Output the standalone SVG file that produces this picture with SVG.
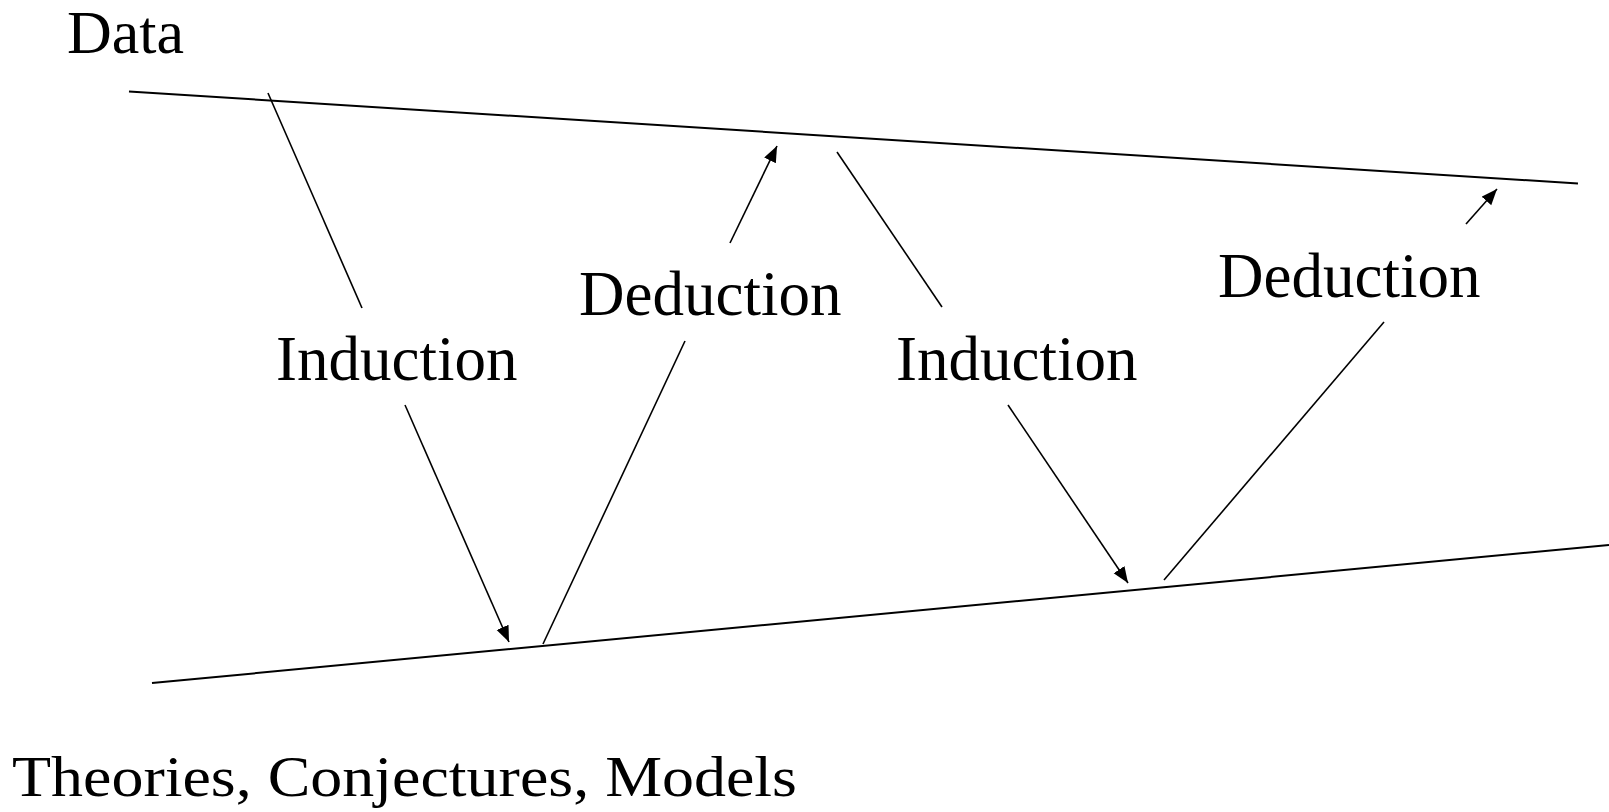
<svg xmlns="http://www.w3.org/2000/svg" width="1609" height="812" viewBox="0 0 1609 812">
<style>
.t{font-family:"Liberation Serif","Times New Roman",serif;fill:#000}
.ln{stroke:#000;stroke-width:2;fill:none}
.c{stroke:#000;stroke-width:1.6;fill:none}
</style>
<defs>
<marker id="ah" markerUnits="userSpaceOnUse" markerWidth="18" markerHeight="14" refX="16" refY="6.5" orient="auto">
<path d="M0,0 L16,6.5 L0,13 z" fill="#000"/>
</marker>
</defs>
<rect width="1609" height="812" fill="#fff"/>
<g id="data-line"><line class="ln" x1="129" y1="91.5" x2="1578" y2="183.5"/></g>
<g id="theory-line"><line class="ln" x1="152" y1="683" x2="1609" y2="545"/></g>
<g id="data"><text class="t" x="67" y="53" font-size="62">Data</text></g>
<g id="theories"><text class="t" x="12" y="796" font-size="58" textLength="785" lengthAdjust="spacingAndGlyphs">Theories, Conjectures, Models</text></g>
<g id="induction1"><text class="t" x="276" y="380" font-size="63">Induction</text></g>
<g id="deduction1"><text class="t" x="579" y="315" font-size="63">Deduction</text></g>
<g id="induction2"><text class="t" x="896" y="380" font-size="63">Induction</text></g>
<g id="deduction2"><text class="t" x="1218" y="297" font-size="63">Deduction</text></g>
<g id="connectors">
<line class="c" x1="268" y1="93" x2="362" y2="308"/>
<line class="c" x1="405" y1="405" x2="509" y2="642" marker-end="url(#ah)"/>
<line class="c" x1="543" y1="644" x2="685" y2="341"/>
<line class="c" x1="730" y1="243" x2="777" y2="146" marker-end="url(#ah)"/>
<line class="c" x1="837" y1="152" x2="942" y2="307"/>
<line class="c" x1="1008" y1="405" x2="1128" y2="583" marker-end="url(#ah)"/>
<line class="c" x1="1164" y1="580" x2="1384" y2="322"/>
<line class="c" x1="1466" y1="224" x2="1497" y2="189" marker-end="url(#ah)"/>
</g>
</svg>
